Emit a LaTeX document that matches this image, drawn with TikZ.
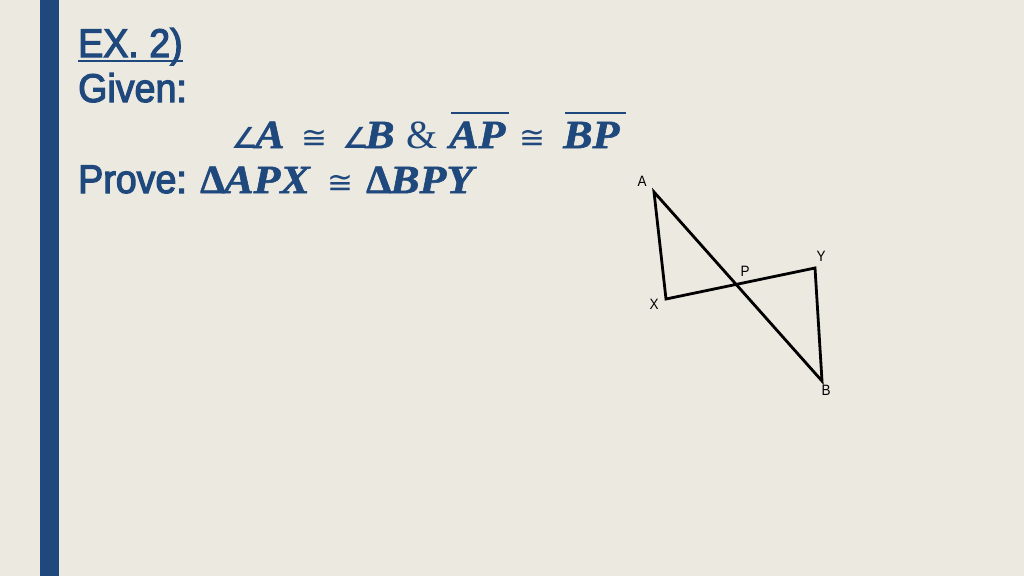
\documentclass[tikz,border=0pt]{standalone}
\usepackage{fontspec}
\setmainfont{Liberation Sans}
\newfontfamily\headfont[FakeStretch=0.94,FakeBold=3]{Liberation Sans}
\newfontfamily\lblfont[FakeStretch=0.9]{Liberation Sans}
\newfontfamily\mathserif[FakeStretch=1.1,BoldItalicFeatures={FakeBold=1.5}]{Liberation Serif}
\newfontfamily\deltafont[BoldFeatures={FakeBold=1.5}]{Liberation Serif}
\newfontfamily\symfont{DejaVu Sans}
\definecolor{bgc}{RGB}{236,233,224}
\definecolor{barc}{RGB}{31,73,125}
\definecolor{txtc}{RGB}{31,73,125}
\begin{document}
\begin{tikzpicture}[x=1pt,y=-1pt,
  head/.style={anchor=base west,inner sep=0pt,text=txtc,font=\headfont\fontsize{40}{40}\selectfont},
  mth/.style={anchor=base west,inner sep=0pt,text=txtc,font=\mathserif\fontsize{40}{40}\selectfont\bfseries\itshape},
  sym/.style={anchor=base west,inner sep=0pt,text=txtc,font=\symfont\fontsize{31}{31}\selectfont},
  ang/.style={anchor=base west,inner sep=0pt,text=txtc,font=\symfont\fontsize{29}{29}\selectfont\bfseries},
  dlt/.style={anchor=base west,inner sep=0pt,text=txtc,font=\deltafont\fontsize{40}{40}\selectfont\bfseries},
  amp/.style={anchor=base west,inner sep=0pt,text=txtc,font=\deltafont\fontsize{40}{40}\selectfont},
  bar/.style={txtc,line width=2.6pt},
  lbl/.style={inner sep=0pt,font=\lblfont\fontsize{15}{15}\selectfont},
  seg/.style={line width=2.8pt,line join=miter,line cap=round}]
\fill[bgc] (0,0) rectangle (1024,576);
\useasboundingbox (0,0) rectangle (1024,576);
\fill[barc] (40,0) rectangle (59,576);
% headings
\node[head] (ex) at (78,57) {EX. 2)};
\draw[txtc,line width=2pt] ([yshift=-4pt]ex.base west) -- ([yshift=-4pt]ex.base east);
\node[head] (given) at (78,102) {Given:};
\node[head] (prove) at (78,193) {Prove:};
% given line
\node[ang] (g1) at (231,148) {∠};
\node[mth] (g2) at (255,148) {A};
\node[sym] (g3) at (301,148) {≅};
\node[ang] (g4) at (342,148) {∠};
\node[mth] (g5) at (365,148) {B};
\node[amp] (g6) at (406,148) {\&};
\node[mth] (g7) at (449,148) {AP};
\node[sym] (g8) at (519,148) {≅};
\node[mth] (g9) at (563,148) {BP};
\draw[bar] (451,113) -- (509,113);
\draw[bar] (565,113) -- (626,113);
% prove line
\node[dlt] (p1) at (200,193) {Δ};
\node[mth] (p2) at (224,193) {APX};
\node[sym] (p3) at (327,193) {≅};
\node[dlt] (p4) at (366,193) {Δ};
\node[mth] (p5) at (390,193) {BPY};
% figure
\coordinate (A) at (654,192);
\coordinate (X) at (666,299);
\coordinate (Y) at (815,268);
\coordinate (B) at (822,381);
\draw[seg] (A) -- (X) -- (Y) -- (B) -- cycle;
\node[lbl] (lA) at (642,181) {A};
\node[lbl] (lY) at (821,256) {Y};
\node[lbl] (lP) at (745,271) {P};
\node[lbl] (lX) at (654,304) {X};
\node[lbl] (lB) at (826,390) {B};
\end{tikzpicture}
\end{document}
